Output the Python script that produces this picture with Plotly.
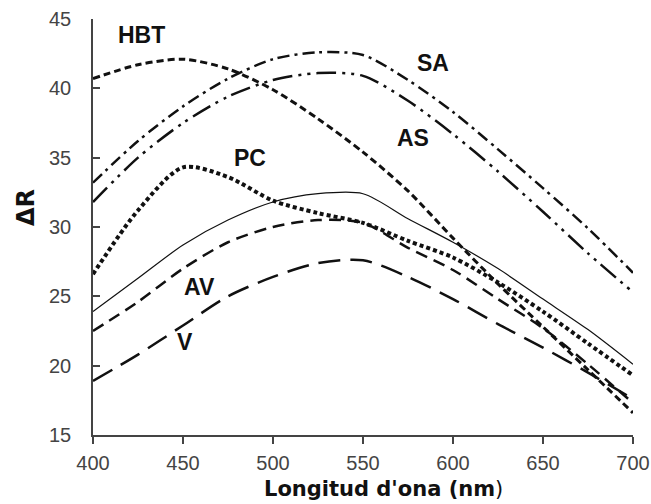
import plotly.graph_objects as go

wavelength = [400, 425, 450, 475, 500, 525, 550, 575, 600, 625, 650, 675, 700]

hbt = [40.7, 41.7, 42.1, 41.4, 39.9, 37.8, 35.4, 32.6, 29.2, 25.9, 22.8, 19.7, 16.6]
sa = [33.2, 36.2, 38.7, 40.7, 42.1, 42.6, 42.4, 40.6, 38.3, 35.6, 32.8, 29.9, 26.7]
as_ = [31.8, 35.0, 37.5, 39.4, 40.6, 41.1, 40.9, 39.1, 36.7, 34.0, 31.1, 28.1, 25.3]
pc = [26.6, 31.2, 34.3, 33.6, 31.9, 31.0, 30.3, 29.0, 27.8, 26.0, 23.9, 21.6, 19.3]
solid = [23.9, 26.3, 28.7, 30.5, 31.8, 32.4, 32.4, 30.6, 28.9, 27.0, 24.8, 22.6, 20.1]
av = [22.5, 24.6, 27.0, 28.9, 30.0, 30.5, 30.3, 28.5, 26.9, 24.8, 22.7, 20.1, 17.3]
v = [18.9, 20.8, 22.9, 25.0, 26.4, 27.4, 27.6, 26.4, 24.8, 23.0, 21.3, 19.5, 17.6]

series = [
    ("HBT", hbt, dict(width=3, dash="7px,4px")),
    ("SA", sa, dict(width=2.5, dash="12px,5px,3px,5px")),
    ("AS", as_, dict(width=2.5, dash="20px,6px,3px,6px,3px,6px")),
    ("PC", pc, dict(width=4, dash="4px,3px")),
    ("control", solid, dict(width=1.2)),
    ("AV", av, dict(width=2.5, dash="12px,7px")),
    ("V", v, dict(width=2.5, dash="22px,10px")),
]

labels = ["HBT", "SA", "AS", "PC", "AV", "V"]
label_x = [427, 589, 578, 487, 459, 451]
label_y = [43.85, 41.8, 36.4, 35.0, 25.65, 21.7]

fig = go.Figure()
for name, ys, ln in series:
    fig.add_trace(go.Scatter(
        x=wavelength, y=ys, mode="lines", name=name,
        line=dict(color="#111111", shape="spline", smoothing=0.8, **ln),
        showlegend=False,
    ))

for t, lx, ly in zip(labels, label_x, label_y):
    fig.add_annotation(x=lx, y=ly, text=f"<b>{t}</b>", showarrow=False,
                       font=dict(family="Liberation Sans", size=23, color="#111111"))

# axis titles as paper-positioned text
fig.add_annotation(xref="paper", yref="paper", x=(383 - 93) / 540, y=-(489 - 435) / 416,
                   text="<b>Longitud d'ona (nm</b>)", showarrow=False,
                   xanchor="center", yanchor="middle",
                   font=dict(family="DejaVu Sans", size=21, color="#111111"))
fig.add_annotation(xref="paper", yref="paper", x=-(93 - 26) / 540, y=(435 - 208) / 416,
                   text="<b>ΔR</b>", showarrow=False, textangle=-90,
                   xanchor="center", yanchor="middle",
                   font=dict(family="DejaVu Sans", size=24, color="#111111"))

fig.update_layout(
    width=651, height=504,
    margin=dict(l=93, r=18, t=19, b=69),
    plot_bgcolor="white", paper_bgcolor="white",
    xaxis=dict(
        range=[400, 700], tickvals=[400, 450, 500, 550, 600, 650, 700],
        showgrid=False, zeroline=False, showline=True, linecolor="#444444", linewidth=1.5,
        ticks="outside", ticklen=7, tickcolor="#444444", tickwidth=1.5,
        tickfont=dict(family="Liberation Sans", size=20, color="#444444"),
        ticklabelstandoff=2, automargin=False,
    ),
    yaxis=dict(
        range=[15, 45], tickvals=[15, 20, 25, 30, 35, 40, 45],
        showgrid=False, zeroline=False, showline=True, linecolor="#444444", linewidth=1.5,
        ticks="inside", ticklen=7, tickcolor="#444444", tickwidth=1.5,
        tickfont=dict(family="Liberation Sans", size=20, color="#444444"),
        ticklabelstandoff=16, automargin=False,
    ),
)

fig.write_html("out.html")
